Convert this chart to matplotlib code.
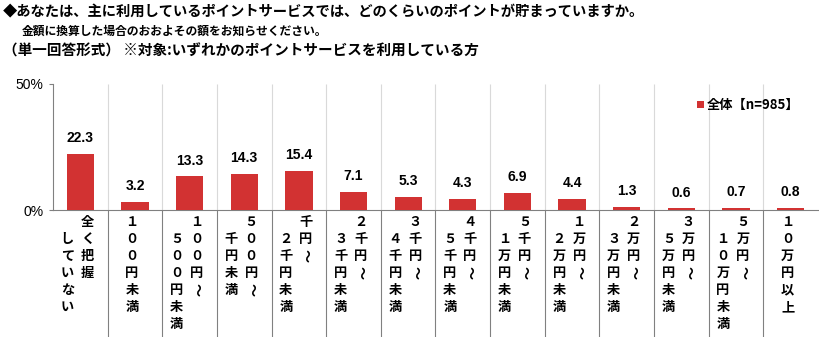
import matplotlib
matplotlib.use('Agg')
import matplotlib.pyplot as plt
from matplotlib.transforms import blended_transform_factory

plt.rcParams['font.family'] = ['Noto Sans CJK JP', 'DejaVu Sans']

# 回答の選択肢（縦書きの列、右から左）
categories = [
    ['全く把握', 'していない'],
    ['１００円未満'],
    ['１００円～', '５００円未満'],
    ['５００円～', '千円未満'],
    ['千円～', '２千円未満'],
    ['２千円～', '３千円未満'],
    ['３千円～', '４千円未満'],
    ['４千円～', '５千円未満'],
    ['５千円～', '１万円未満'],
    ['１万円～', '２万円未満'],
    ['２万円～', '３万円未満'],
    ['３万円～', '５万円未満'],
    ['５万円～', '１０万円未満'],
    ['１０万円以上'],
]
values = [22.3, 3.2, 13.3, 14.3, 15.4, 7.1, 5.3, 4.3, 6.9, 4.4, 1.3, 0.6, 0.7, 0.8]
yticks = [0, 50]
ytick_labels = ['0%', '50%']
legend_label = '全体【n=985】'
title_lines = [
    '◆あなたは、主に利用しているポイントサービスでは、どのくらいのポイントが貯まっていますか。',
    '金額に換算した場合のおおよその額をお知らせください。',
    '（単一回答形式） ※対象:いずれかのポイントサービスを利用している方',
]

W, H = 820, 337
bar_color = '#d23232'
num_font = ['Liberation Sans', 'DejaVu Sans']

fig = plt.figure(figsize=(W / 100, H / 100), dpi=100)
ax = fig.add_axes([53 / W, 1 - 210 / H, 765 / W, 126 / H])

x = list(range(len(values)))
ax.bar(x, values, width=0.5, color=bar_color, zorder=3, label=legend_label)
ax.set_xlim(-0.5, len(values) - 0.5)
ax.set_ylim(0, 50)

# 値ラベル
for xi, v in zip(x, values):
    ax.annotate(f'{v:.1f}', (xi, v), xytext=(0, 11.5), textcoords='offset points',
                ha='center', va='center', fontsize=10, fontweight='bold',
                family=num_font)

# 軸
for s in ['top', 'right']:
    ax.spines[s].set_visible(False)
ax.spines['left'].set_color('#808080')
ax.spines['bottom'].set_color('#808080')
ax.set_yticks(yticks)
ax.set_yticklabels(ytick_labels, fontsize=10, family=num_font)
ax.tick_params(axis='y', length=3, color='#808080', pad=4)
ax.set_xticks([])

# 区切り線（プロット内は薄く、下のラベル部分は濃く）
trans = blended_transform_factory(ax.transData, ax.transAxes)
seps = [k + 0.5 for k in x[:-1]]
ax.vlines(seps, 0, 1, transform=trans, colors='#d9d9d9', linewidth=0.8, zorder=1)
ax.vlines(seps, -130 / 126, 0, transform=trans, colors='#808080', linewidth=0.8,
          clip_on=False)

# 縦書きラベル
row_h = 17 / 126
col_gap = 20 / 54.6
shift = -3 / 54.6
for xi, cols in zip(x, categories):
    n = len(cols)
    for ci, col in enumerate(cols):
        cx = xi + shift + (n - 1) / 2 * col_gap - ci * col_gap
        for ri, ch in enumerate(col):
            cy = -(12 / 126) - (ri + ci) * row_h
            rot = -90 if ch == '～' else 0
            ax.text(cx, cy, ch, transform=trans, ha='center', va='center',
                    fontsize=9.5, fontweight='bold', rotation=rot, clip_on=False)

# 凡例
ax.legend(loc='upper right', bbox_to_anchor=(0.988, 0.96), frameon=False,
          handlelength=0.5, handleheight=0.5, handletextpad=0.25,
          prop={'size': 9.5, 'weight': 'bold'}, borderaxespad=0.3)

# タイトル
fig.text(3 / W, 1 - 12 / H, title_lines[0], fontsize=10.3, fontweight='bold', va='center')
fig.text(22 / W, 1 - 31 / H, title_lines[1], fontsize=8.5, fontweight='bold', va='center')
fig.text(3 / W, 1 - 51 / H, title_lines[2], fontsize=10.5, fontweight='bold', va='center')

fig.savefig('out.png', dpi=100)
